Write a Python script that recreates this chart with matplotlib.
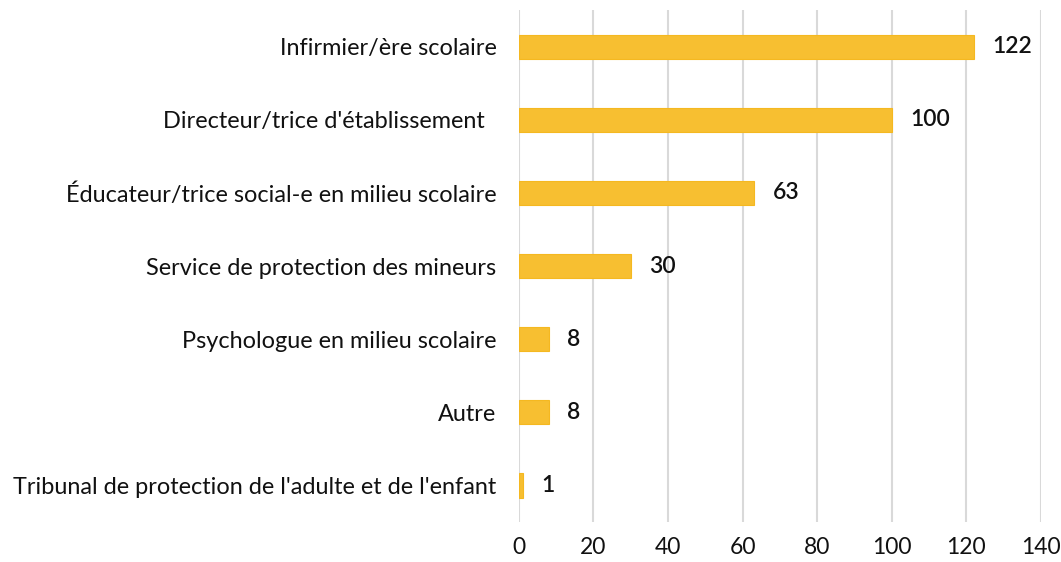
import matplotlib.pyplot as plt

plt.rcParams['font.family'] = ['Lato', 'DejaVu Sans']

categories = [
    "Infirmier/ère scolaire",
    "Directeur/trice d'établissement  ",
    "Éducateur/trice social-e en milieu scolaire",
    "Service de protection des mineurs",
    "Psychologue en milieu scolaire",
    "Autre",
    "Tribunal de protection de l'adulte et de l'enfant",
]
values = [122, 100, 63, 30, 8, 8, 1]
x_ticks = [0, 20, 40, 60, 80, 100, 120, 140]

fig = plt.figure(figsize=(10.61, 5.62), dpi=100)
ax = fig.add_axes([0.489, 0.071, 0.492, 0.911])

pos = list(range(len(categories)))
ax.barh(pos, values, height=0.33, color='#F7BF31', edgecolor='#F5B820', linewidth=0.8, zorder=3)
for p, v in zip(pos, values):
    ax.text(v + 5, p, str(v), va='center', ha='left', fontsize=16.5,
            fontweight='semibold', color='#111111', zorder=4)

ax.set_yticks(pos)
ax.set_yticklabels(categories, fontsize=16.9, color='#111111')
ax.set_ylim(len(categories) - 0.5, -0.5)
ax.set_xlim(0, 140)
ax.set_xticks(x_ticks)
ax.set_xticklabels([str(t) for t in x_ticks], fontsize=16.5, color='#111111')
ax.tick_params(axis='both', length=0)
ax.tick_params(axis='y', pad=16)
ax.tick_params(axis='x', pad=11)
ax.grid(axis='x', color='#D9D9D9', linewidth=1.5, zorder=0)
for s in ax.spines.values():
    s.set_visible(False)

fig.savefig('out.png', dpi=100)
